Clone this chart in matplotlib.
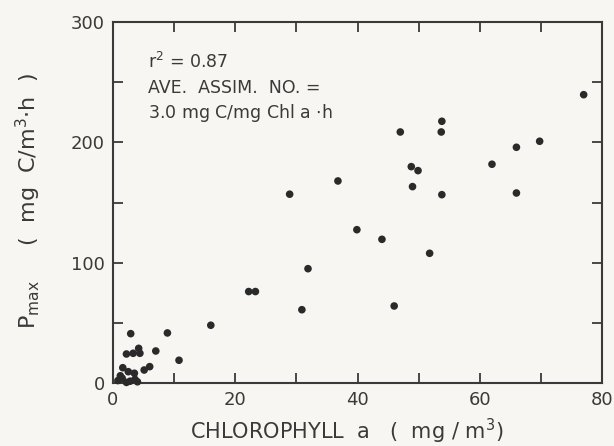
import matplotlib
matplotlib.use("Agg")
import matplotlib.pyplot as plt
from matplotlib.ticker import MultipleLocator

chl = [77.0, 53.8, 47.0, 53.7, 69.8, 66.0, 62.0, 48.8, 49.9, 36.8, 49.0, 28.9, 53.8, 66.0,
       39.9, 44.0, 51.8, 31.9, 22.2, 23.3, 30.9, 46.0,
       16.0, 2.9, 8.9, 2.2, 3.3, 4.2, 4.4, 7.0, 10.8, 6.0, 5.1, 1.6, 2.5, 3.5,
       0.8, 1.5, 2.8, 3.6, 1.2, 2.2, 4.0]
pmax = [239.6, 217.5, 208.6, 208.6, 200.9, 195.9, 181.8, 179.8, 176.5, 167.9, 163.2, 156.9, 156.5, 157.9,
        127.4, 119.4, 107.8, 95.0, 76.0, 76.0, 60.9, 64.0,
        48.0, 41.0, 41.6, 24.1, 24.7, 28.8, 24.7, 26.6, 18.9, 13.6, 10.8, 12.7, 9.4, 8.1,
        2.0, 4.0, 1.5, 3.0, 6.0, 0.5, 1.0]

ink = "#3a3a3a"
fig = plt.figure(figsize=(6.14, 4.46), dpi=100, facecolor="#f7f6f2")
ax = fig.add_axes([113/614, 1-383/446, (602-113)/614, (383-22)/446])
ax.set_facecolor("#f7f6f2")
ax.scatter(chl, pmax, s=30, color="#2a2a2a", edgecolors="none", zorder=3, clip_on=False)

ax.set_xlim(0, 80)
ax.set_ylim(0, 300)
ax.xaxis.set_major_locator(MultipleLocator(20))
ax.xaxis.set_minor_locator(MultipleLocator(10))
ax.yaxis.set_major_locator(MultipleLocator(100))
ax.yaxis.set_minor_locator(MultipleLocator(50))
ax.tick_params(which="both", direction="in", top=True, right=True, length=7, width=1.3,
               color=ink, labelcolor=ink, labelsize=13, pad=6)
for s in ax.spines.values():
    s.set_color(ink)
    s.set_linewidth(1.5)

ax.set_xlabel("CHLOROPHYLL  a   (  mg / m$^3$)", fontsize=15, color=ink)
ax.xaxis.set_label_coords((347-113)/489, -(431-383)/361, transform=ax.transAxes)
ax.set_ylabel("P$_{\\rm max}$     (  mg  C/m$^3$$\\cdot$h  )", fontsize=16, color=ink)
ax.yaxis.set_label_coords(-(113-28)/489, (383-201)/361, transform=ax.transAxes)
ax.yaxis.label.set_va("center")
ax.xaxis.label.set_va("center")

tx = (148-113)/489
ax.text(tx, (383-62)/361, "r$^2$ = 0.87", transform=ax.transAxes, fontsize=12.5, color=ink, va="center")
ax.text(tx, (383-88)/361, "AVE.  ASSIM.  NO. =", transform=ax.transAxes, fontsize=12.5, color=ink, va="center")
ax.text(tx, (383-113)/361, "3.0 mg C/mg Chl a $\\cdot$h", transform=ax.transAxes, fontsize=12.5, color=ink, va="center")

fig.savefig("out.png", dpi=100, facecolor=fig.get_facecolor())
